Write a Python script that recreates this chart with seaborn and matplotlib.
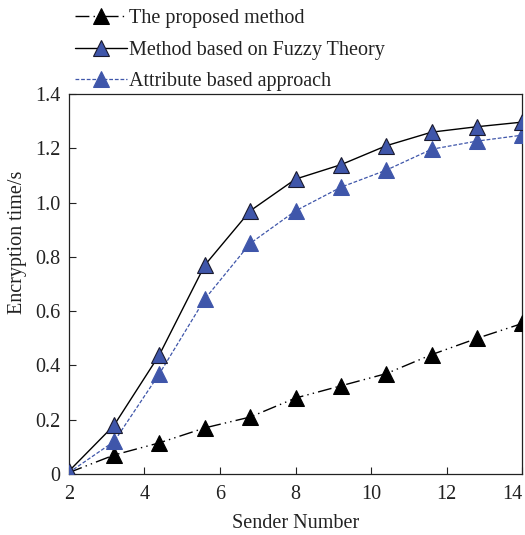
import pandas as pd
import seaborn as sns
import matplotlib.pyplot as plt
from matplotlib.ticker import FuncFormatter

sender = [2, 3.2, 4.4, 5.6, 6.8, 8, 9.2, 10.4, 11.6, 12.8, 14]
proposed = [0.005, 0.07, 0.115, 0.17, 0.21, 0.28, 0.325, 0.37, 0.44, 0.50, 0.555]
fuzzy = [0.01, 0.18, 0.44, 0.77, 0.97, 1.087, 1.14, 1.21, 1.26, 1.28, 1.297]
attribute = [0.005, 0.12, 0.37, 0.645, 0.85, 0.97, 1.057, 1.12, 1.197, 1.227, 1.249]

labels = ["The proposed method", "Method based on Fuzzy Theory", "Attribute based approach"]
blue = "#3F56AA"

sns.set_style("ticks")
plt.rcParams["font.family"] = ["Liberation Serif", "DejaVu Serif"]

df = pd.DataFrame({"x": sender, "proposed": proposed, "fuzzy": fuzzy, "attribute": attribute})

fig = plt.figure(figsize=(5.25, 5.35), dpi=100)
ax = fig.add_axes([0.131, 0.114, 0.864, 0.71])

sns.lineplot(data=df, x="x", y="proposed", ax=ax, color="black", lw=1,
             marker="^", markersize=11, markerfacecolor="black", markeredgecolor="black",
             dashes=(10, 3, 1, 3, 1, 3), label=labels[0], zorder=3)
sns.lineplot(data=df, x="x", y="fuzzy", ax=ax, color="black", lw=1,
             marker="^", markersize=11, markerfacecolor=blue, markeredgecolor="#1a1a2e",
             markeredgewidth=0.8, label=labels[1], zorder=4)
sns.lineplot(data=df, x="x", y="attribute", ax=ax, color=blue, lw=0.9,
             marker="^", markersize=11, markerfacecolor=blue, markeredgecolor=blue,
             dashes=(3, 1.5), label=labels[2], zorder=3)

ax.set_xlim(2, 14)
ax.set_ylim(0, 1.4)
ax.set_xticks([2, 4, 6, 8, 10, 12, 14])
ax.set_yticks([0, 0.2, 0.4, 0.6, 0.8, 1.0, 1.2, 1.4])
ax.yaxis.set_major_formatter(FuncFormatter(lambda v, p: "0" if v == 0 else f"{v:.1f}"))
ax.tick_params(direction="in", length=5, width=0.8, labelsize=14.5, colors="#222222",
               pad=6)
ax.tick_params(axis="x", pad=8)
ax.get_xticklabels()[-1].set_horizontalalignment("right")
for s in ax.spines.values():
    s.set_linewidth(0.9)
    s.set_color("#222222")

ax.set_xlabel("Sender Number", fontsize=14.5, labelpad=7, color="#222222")
ax.set_ylabel("Encryption time/s", fontsize=14.5, color="#222222")
ax.yaxis.set_label_coords(-0.092, 0.61)

leg = ax.legend(loc="upper left", bbox_to_anchor=(-0.005, 1.245), frameon=False,
                fontsize=14.5, handlelength=2.6, handletextpad=0.1,
                labelspacing=0.62, borderaxespad=0)
for t in leg.get_texts():
    t.set_color("#222222")

fig.savefig("out.png", dpi=100)
